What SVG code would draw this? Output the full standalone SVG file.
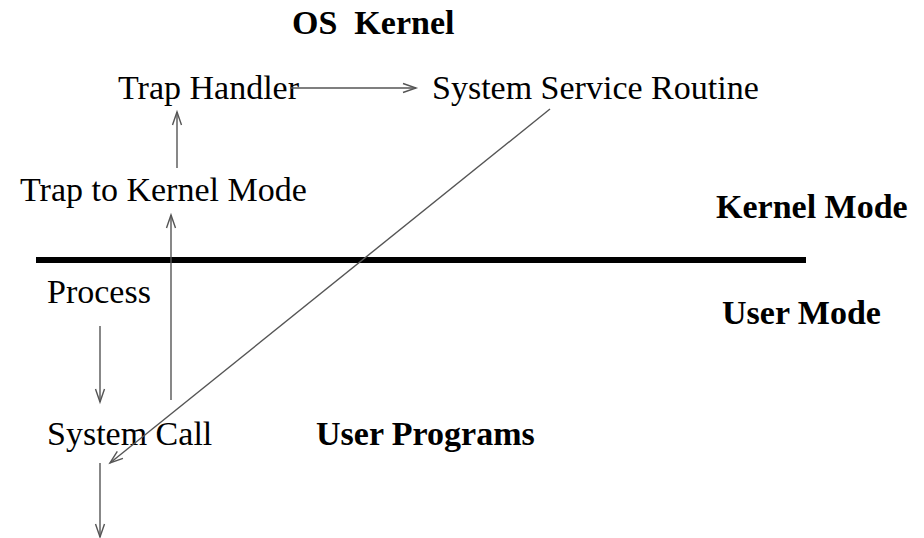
<svg xmlns="http://www.w3.org/2000/svg" width="924" height="538" viewBox="0 0 924 538">
<style>
.t{font-family:"Liberation Serif","Times New Roman",serif;font-size:34px;fill:#000}
.b{font-weight:bold}
.c{stroke:#555;stroke-width:1.4;fill:none}
</style>
<defs>
<marker id="ah" markerUnits="userSpaceOnUse" markerWidth="16" markerHeight="12" refX="14" refY="6" orient="auto" overflow="visible">
<path d="M1,1.5 L14,6 L1,10.5" fill="none" stroke="#555" stroke-width="1.4"/>
</marker>
</defs>
<rect width="924" height="538" fill="#fff"/>
<text class="t b" x="292" y="34" xml:space="preserve">OS  Kernel</text>
<text class="t b" x="716" y="218">Kernel Mode</text>
<text class="t b" x="722" y="324">User Mode</text>
<text id="user-programs" class="t b" x="316" y="445">User Programs</text>
<line x1="36" y1="260" x2="806" y2="260" stroke="#000" stroke-width="6"/>
<g id="trap-handler"><text class="t" x="118" y="99">Trap Handler</text></g>
<g id="system-service-routine"><text class="t" x="432" y="99">System Service Routine</text></g>
<g id="trap-to-kernel"><text class="t" x="20" y="201">Trap to Kernel Mode</text></g>
<g id="process"><text class="t" x="47" y="303">Process</text></g>
<g id="system-call"><text class="t" x="47" y="445">System Call</text></g>
<g id="connectors">
<line class="c" x1="290" y1="88" x2="416" y2="88" marker-end="url(#ah)"/>
<line class="c" x1="177" y1="168" x2="177" y2="112" marker-end="url(#ah)"/>
<line class="c" x1="171" y1="400" x2="171" y2="215" marker-end="url(#ah)"/>
<line class="c" x1="100" y1="326" x2="100" y2="402" marker-end="url(#ah)"/>
<line class="c" x1="550" y1="109" x2="110" y2="463" marker-end="url(#ah)"/>
<line class="c" x1="100" y1="463" x2="100" y2="537" marker-end="url(#ah)"/>
</g>
</svg>
